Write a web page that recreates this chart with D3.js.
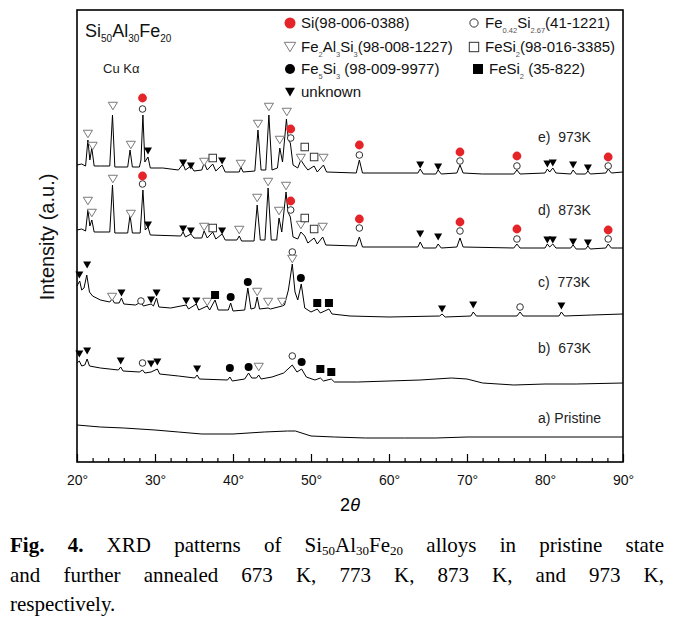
<!DOCTYPE html>
<html><head><meta charset="utf-8">
<script src="https://cdn.jsdelivr.net/npm/d3@7"></script>
<style>
body{margin:0;background:#fff;}
#wrap{position:relative;width:678px;height:636px;overflow:hidden;}
#wrap svg{position:absolute;left:0;top:0;}
.cap{position:absolute;left:10px;width:654px;top:531px;font-family:"Liberation Serif","Times New Roman",serif;font-size:21px;line-height:29.5px;color:#000;}
.cap div{text-align:justify;text-align-last:justify;}
.cap div.last{text-align-last:left;}
.cap .sb{font-size:13px;vertical-align:-3px;line-height:0;}
</style></head>
<body><div id="wrap"></div>
<script>
// ---------- data (2θ in degrees, intensity in a.u.) ----------
const majorTicks = [20,30,40,50,60,70,80,90];
const minorTicks = [22,24,26,28,32,34,36,38,42,44,46,48,52,54,56,58,62,64,66,68,72,74,76,78,82,84,86,88];

const trace973 = [[20.0,297],[20.6,298],[21.1,296],[21.4,322],[21.65,302],[21.9,314],[22.2,296],[23.0,296],[24.2,296],[24.55,347],[24.85,295],[26.5,295],[26.8,312],[27.1,295],[28.0,295],[28.2,302],[28.45,347],[28.7,300],[29.1,305],[29.4,294],[31.0,294],[33.0,292],[33.6,298],[33.9,292],[34.6,296],[35.0,291],[36.0,292],[36.3,299],[36.7,292],[37.4,298],[37.8,291],[38.6,297],[39.0,290],[40.8,290],[41.0,295],[41.3,290],[42.8,291],[43.2,332],[43.6,292],[44.2,292],[44.6,347],[45.0,292],[45.7,294],[46.0,314],[46.35,300],[46.85,343],[47.1,322],[47.35,319],[47.7,297],[48.3,294],[48.7,302],[49.2,296],[49.6,292],[50.4,296],[50.8,290],[51.6,297],[52.0,290],[55.8,289],[56.2,302],[56.6,289],[60,289],[63.7,289],[64.0,293],[64.4,288],[66.0,288],[66.3,292],[66.7,288],[68.7,289],[69.1,297],[69.5,289],[72,288],[76.0,288],[76.4,292],[76.8,288],[80.0,289],[80.3,293],[80.6,290],[81.0,294],[81.4,289],[83.3,288],[83.6,292],[84.0,288],[85.2,288],[85.5,291],[85.8,288],[87.8,289],[88.1,293],[88.5,289],[90,290]];

const trace873 = [[20.0,232],[20.6,233],[21.1,231],[21.4,252],[21.65,236],[21.9,242],[22.2,230],[24.2,230],[24.55,277],[24.85,229],[26.5,229],[26.8,247],[27.1,229],[28.1,229],[28.45,272],[28.75,232],[29.1,235],[29.4,227],[33.3,226],[33.6,230],[33.9,225],[34.6,228],[35.0,224],[36.0,224],[36.3,231],[36.7,224],[37.4,230],[37.8,223],[38.6,228],[39.0,222],[40.5,222],[40.8,226],[41.1,221],[42.7,221],[43.1,257],[43.5,222],[44.1,222],[44.5,274],[44.9,222],[45.6,222],[45.9,244],[46.25,230],[46.8,270],[47.05,250],[47.35,245],[47.7,225],[48.3,223],[48.7,230],[49.2,226],[49.6,219],[50.4,224],[50.8,218],[51.5,225],[51.9,217],[55.8,216],[56.2,225],[56.6,215],[63.7,215],[64.0,220],[64.4,214],[66.0,214],[66.3,218],[66.7,214],[68.7,215],[69.1,224],[69.5,215],[76.0,214],[76.4,218],[76.8,214],[80.0,214],[80.3,218],[80.6,215],[81.0,218],[81.4,214],[83.3,214],[83.6,217],[84.0,213],[85.2,213],[85.5,216],[85.8,213],[87.8,214],[88.1,218],[88.5,214],[90,214]];

const trace773 = [[20.0,176],[20.2,179],[20.35,181],[20.6,172],[20.9,174],[21.25,187],[21.6,170],[22.0,166],[23.0,162],[24.2,160],[24.5,163],[24.8,159],[25.4,159],[25.7,164],[26.0,158],[27.5,157],[28.2,160],[28.5,156],[29.5,158],[29.8,156],[30.2,164],[30.5,155],[32.0,154],[34.0,157],[34.3,153],[35.3,158],[35.6,152],[36.7,156],[37.0,152],[37.7,162],[38.1,152],[39.4,152],[39.7,159],[40.0,151],[41.5,152],[41.9,174],[42.3,153],[42.8,154],[43.1,165],[43.4,153],[44.5,154],[44.8,153],[46.3,156],[46.6,157],[47.1,172],[47.6,198],[47.95,170],[48.3,162],[48.75,178],[49.2,154],[50.0,150],[50.8,153],[51.2,149],[52.3,153],[52.7,148],[55.0,146],[60.0,145],[66.5,146],[66.8,148],[67.2,145],[70.5,146],[70.8,150],[71.2,146],[76.4,146],[76.8,150],[77.2,146],[81.8,146],[82.1,150],[82.5,146],[86,147],[90,148]];

const trace673 = [[20.0,99],[20.3,101],[20.6,96],[21.0,97],[21.3,103],[21.6,96],[23.0,94],[25.3,92],[25.6,95],[25.9,91],[28.0,90],[28.4,92],[28.7,89],[29.5,90],[30.3,93],[30.6,88],[33.0,86],[35.1,84],[35.4,87],[35.7,83],[39.3,82],[39.6,85],[39.9,81],[41.5,83],[42.0,89],[42.4,84],[43.0,84],[43.3,87],[43.6,83],[45.0,85],[46.5,89],[47.6,97],[48.2,90],[48.8,93],[49.4,85],[50.5,82],[51.2,84],[51.6,81],[52.6,83],[53.0,80],[56.0,80],[60.0,81],[64.0,82],[68.0,84],[70.0,83],[72.0,79],[76.0,77],[80.0,78],[84.0,78],[90.0,79]];

const tracePristine = [[20,37],[23,35],[26,34],[30,32],[33,30],[36,28],[40,28],[44,30],[47,31],[48,31],[50,26],[53,25],[57,24],[62,24],[66,24],[70,25],[75,25],[80,25],[85,25],[90,25]];

// phase markers: [2θ, intensity, phase]
const marks973 = [[21.4,328,'tri'],[22.0,316,'tri'],[24.6,356,'tri'],[26.9,317,'tri'],[28.4,353,'o'],[28.4,364,'si'],[29.1,311,'unk'],[33.6,299,'unk'],[34.6,296,'unk'],[36.3,300,'tri'],[37.4,304,'osq'],[38.6,301,'unk'],[41.0,298,'tri'],[43.2,338,'tri'],[44.6,355,'tri'],[46.0,322,'tri'],[46.9,350,'tri'],[47.4,333,'si'],[47.4,324,'o'],[48.7,304,'tri'],[49.2,315,'osq'],[50.4,305,'osq'],[51.6,304,'tri'],[56.2,307,'o'],[56.2,317,'si'],[64.0,297,'unk'],[66.3,295,'unk'],[69.1,301,'o'],[69.1,310,'si'],[76.4,296,'o'],[76.4,306,'si'],[80.3,298,'unk'],[81.0,299,'unk'],[83.6,297,'unk'],[85.5,294,'unk'],[88.1,296,'o'],[88.1,305,'si']];
const marks873 = [[21.4,261,'tri'],[21.9,249,'tri'],[24.6,283,'tri'],[26.9,248,'tri'],[28.4,278,'o'],[28.4,286,'si'],[29.1,237,'unk'],[33.6,233,'unk'],[34.6,231,'unk'],[36.3,235,'tri'],[37.4,234,'osq'],[38.6,231,'unk'],[40.8,232,'tri'],[43.1,264,'tri'],[44.5,280,'tri'],[45.9,251,'tri'],[46.8,276,'tri'],[47.4,261,'si'],[47.4,252,'o'],[48.7,237,'tri'],[49.2,244,'osq'],[50.4,233,'osq'],[51.5,235,'tri'],[56.2,234,'o'],[56.2,243,'si'],[64.0,228,'unk'],[66.3,225,'unk'],[69.1,231,'o'],[69.1,240,'si'],[76.4,223,'o'],[76.4,233,'si'],[80.3,222,'unk'],[81.0,222,'unk'],[83.6,220,'unk'],[85.5,219,'unk'],[88.1,223,'o'],[88.1,232,'si']];
const marks773 = [[20.3,187,'unk'],[21.3,197,'unk'],[24.5,165,'tri'],[25.7,169,'unk'],[28.2,161,'o'],[29.5,162,'unk'],[30.2,169,'unk'],[34.0,161,'unk'],[35.3,161,'unk'],[36.7,160,'tri'],[37.7,167,'fsq'],[39.7,165,'dot'],[41.9,180,'dot'],[43.1,170,'tri'],[44.5,160,'tri'],[46.3,160,'tri'],[47.6,210,'o'],[47.6,203,'tri'],[48.7,184,'dot'],[50.8,159,'fsq'],[52.3,159,'fsq'],[66.8,153,'unk'],[70.8,157,'unk'],[76.8,155,'o'],[82.1,156,'unk']];
const marks673 = [[20.3,108,'unk'],[21.3,111,'unk'],[25.6,101,'unk'],[28.4,99,'o'],[29.5,98,'unk'],[30.3,100,'unk'],[35.4,93,'unk'],[39.6,94,'dot'],[42.0,95,'dot'],[43.3,95,'tri'],[47.6,106,'o'],[48.8,100,'dot'],[51.2,93,'fsq'],[52.6,90,'fsq']];

const traceNames = ['e)  973K','d)  873K','c)  773K','b)  673K','a) Pristine'];

const legendPhases = ['si','o','tri','osq','dot','fsq','unk'];
const legendLabels = [
  [['Si(98-006-0388)',0]],
  [['Fe',0],['0.42',1],['Si',0],['2.67',1],['(41-1221)',0]],
  [['Fe',0],['2',1],['Al',0],['3',1],['Si',0],['3',1],['(98-008-1227)',0]],
  [['FeSi',0],['2',1],['(98-016-3385)',0]],
  [['Fe',0],['5',1],['Si',0],['3',1],[' (98-009-9977)',0]],
  [['FeSi',0],['2',1],[' (35-822)',0]],
  [['unknown',0]]
];

// ---------- drawing ----------
const W = 678, H = 636;
const L = 77, R = 623, T = 10, B = 462;
const x = d3.scaleLinear().domain([20,90]).range([L,R]);
const y = d3.scaleLinear().domain([0,452]).range([B,T]);

const svg = d3.select('#wrap').append('svg').attr('width',W).attr('height',H);
const sans = 'Arial, "Liberation Sans", Helvetica, sans-serif';

function marker(g, type, cx, cy, s){
  if(type==='si') g.append('circle').attr('cx',cx).attr('cy',cy).attr('r',4.4*s).attr('fill','#e5242a');
  else if(type==='o') g.append('circle').attr('cx',cx).attr('cy',cy).attr('r',3.3*s).attr('fill','#fff').attr('stroke','#333').attr('stroke-width',1);
  else if(type==='dot') g.append('circle').attr('cx',cx).attr('cy',cy).attr('r',4*s).attr('fill','#000');
  else if(type==='osq'){const a=7.5*s; g.append('rect').attr('x',cx-a/2).attr('y',cy-a/2).attr('width',a).attr('height',a).attr('fill','#fff').attr('stroke','#333').attr('stroke-width',1);}
  else if(type==='fsq'){const a=8*s; g.append('rect').attr('x',cx-a/2).attr('y',cy-a/2).attr('width',a).attr('height',a).attr('fill','#000');}
  else if(type==='tri'){const w=4.6*s,h=7.5*s; g.append('path').attr('d',`M${cx-w},${cy-h/2}L${cx+w},${cy-h/2}L${cx},${cy+h/2}Z`).attr('fill','#fff').attr('stroke','#7a7a7a').attr('stroke-width',1);}
  else if(type==='unk'){const w=4*s,h=7*s; g.append('path').attr('d',`M${cx-w},${cy-h/2}L${cx+w},${cy-h/2}L${cx},${cy+h/2}Z`).attr('fill','#000');}
}

const line = d3.line().x(d=>x(d[0])).y(d=>y(d[1]));
const traces = [trace973, trace873, trace773, trace673, tracePristine];
const marks = [marks973, marks873, marks773, marks673, []];

const gT = svg.append('g');
traces.forEach(t=>{
  gT.append('path').datum(t).attr('d',line).attr('fill','none').attr('stroke','#000').attr('stroke-width',1).attr('stroke-linejoin','round');
});
const gM = svg.append('g');
marks.forEach(ms=>ms.forEach(m=>marker(gM, m[2], x(m[0]), y(m[1]), 1)));

// trace labels
const labelY = [142,215,287,353,423];
traceNames.forEach((n,i)=>{
  svg.append('text').attr('x',538).attr('y',labelY[i]).attr('font-family',sans).attr('font-size',14)
    .attr('fill','#222').style('white-space','pre').text(n);
});

// axes
const axMinor = d3.axisBottom(x).tickValues(minorTicks).tickSize(-4).tickFormat('');
const axMajor = d3.axisBottom(x).tickValues(majorTicks).tickSize(-8).tickFormat(d=>d+'°');
const gMin = svg.append('g').attr('transform',`translate(0,${B})`).call(axMinor);
const gMaj = svg.append('g').attr('transform',`translate(0,${B})`).call(axMajor);
[gMin,gMaj].forEach(g=>{g.select('.domain').remove(); g.selectAll('line').attr('stroke','#000').attr('stroke-width',1.2);});
gMaj.selectAll('text').attr('y',23).attr('dy',0).attr('font-family',sans).attr('font-size',14).attr('fill','#111');

// frame
svg.append('rect').attr('x',L).attr('y',T).attr('width',R-L).attr('height',B-T)
  .attr('fill','none').attr('stroke','#000').attr('stroke-width',1.6);

// axis titles
svg.append('text').attr('x',350).attr('y',511).attr('text-anchor','middle').attr('font-family',sans).attr('font-size',18)
  .html('2<tspan font-style="italic">θ</tspan>');
svg.append('text').attr('transform','translate(54,237) rotate(-90)').attr('text-anchor','middle')
  .attr('font-family',sans).attr('font-size',20).attr('fill','#111').text('Intensity (a.u.)');

// sample name & radiation
const tt = svg.append('text').attr('x',85).attr('y',37).attr('font-family',sans).attr('font-size',18).attr('fill','#111');
[['Si',0],['50',1],['Al',0],['30',1],['Fe',0],['20',1]].forEach(s=>{
  tt.append('tspan').attr('font-size',s[1]?10:18).attr('dy',s[1]?5:-5).text(s[0]);
});
tt.select('tspan').attr('dy',0);
svg.append('text').attr('x',103).attr('y',73).attr('font-family',sans).attr('font-size',13).attr('fill','#222').text('Cu Kα');

// legend
const legPos = [[290,23],[474,23],[290,47],[474,47],[290,69],[478,69],[290,92]];
legendPhases.forEach((p,i)=>{
  const [lx,ly] = legPos[i];
  marker(svg, p, lx, ly, 1.25);
  const t = svg.append('text').attr('x',lx+11).attr('y',ly+5).attr('font-family',sans).attr('font-size',15).attr('fill','#111').style('white-space','pre');
  let shifted = false;
  legendLabels[i].forEach(s=>{
    const ts = t.append('tspan').text(s[0]);
    if(s[1]){ ts.attr('font-size',7.5).attr('dy', shifted?0:5).attr('fill','#555'); shifted=true; }
    else { ts.attr('dy', shifted?-5:0); shifted=false; }
  });
});

// caption
const cap = d3.select('#wrap').append('div').attr('class','cap');
cap.append('div').html('<b>Fig. 4.</b> XRD patterns of Si<span class="sb">50</span>Al<span class="sb">30</span>Fe<span class="sb">20</span> alloys in pristine state');
cap.append('div').html('and further annealed 673 K, 773 K, 873 K, and 973 K,');
cap.append('div').attr('class','last').html('respectively.');
</script>
</body></html>
